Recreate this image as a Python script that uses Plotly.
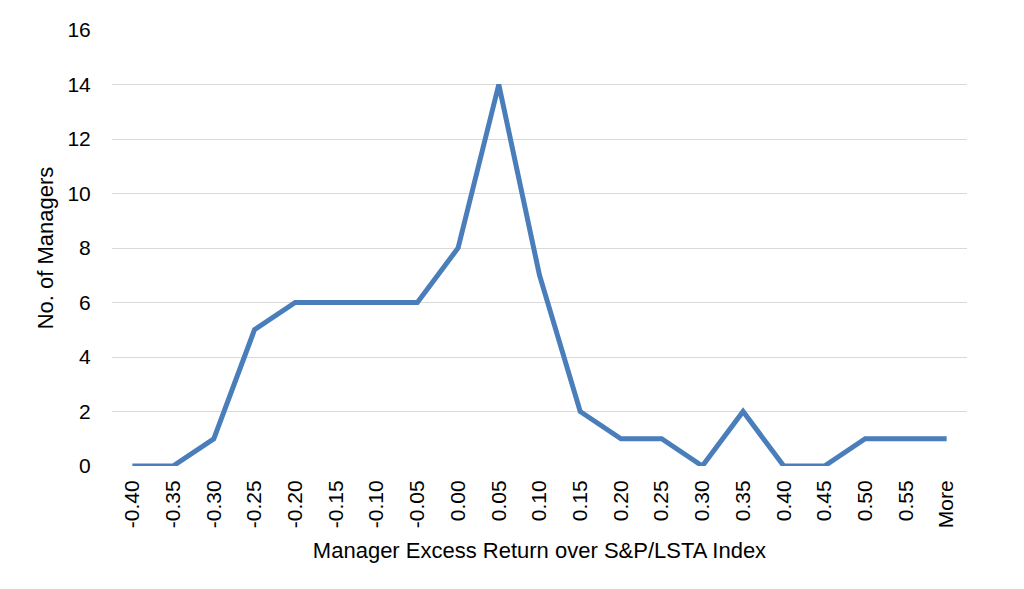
import plotly.graph_objects as go

categories = ["-0.40", "-0.35", "-0.30", "-0.25", "-0.20", "-0.15", "-0.10", "-0.05",
              "0.00", "0.05", "0.10", "0.15", "0.20", "0.25", "0.30", "0.35", "0.40",
              "0.45", "0.50", "0.55", "More"]
managers = [0, 0, 1, 5, 6, 6, 6, 6, 8, 14, 7, 2, 1, 1, 0, 2, 0, 0, 1, 1, 1]
y_ticks = [0, 2, 4, 6, 8, 10, 12, 14, 16]

fig = go.Figure(go.Scatter(
    x=categories, y=managers, mode="lines",
    line=dict(color="#4a7ebb", width=5),
    showlegend=False,
))

font = dict(family="Liberation Sans, Arial, sans-serif", size=21, color="#000000")
fig.update_layout(
    width=1024, height=589,
    margin=dict(l=104, r=65, t=22, b=131),
    paper_bgcolor="white", plot_bgcolor="white",
    font=font,
    xaxis=dict(
        type="category", range=[-0.5, 20.5], tickangle=-90, showgrid=False, zeroline=False,
        showline=False, ticks="outside", ticklen=5, tickcolor="rgba(0,0,0,0)",
        tickfont=dict(size=21), automargin=False,
        title=dict(text="Manager Excess Return over S&P/LSTA Index", font=dict(size=22), standoff=15),
    ),
    yaxis=dict(
        range=[0, 16], tickvals=y_ticks, showgrid=True, gridcolor="#d9d9d9", gridwidth=1.3,
        zeroline=False, showline=False, ticks="outside", ticklen=16, tickcolor="rgba(0,0,0,0)",
        tickfont=dict(size=21), automargin=False,
        title=dict(text="No. of Managers", font=dict(size=22), standoff=7),
    ),
)

fig.write_html("out.html")
